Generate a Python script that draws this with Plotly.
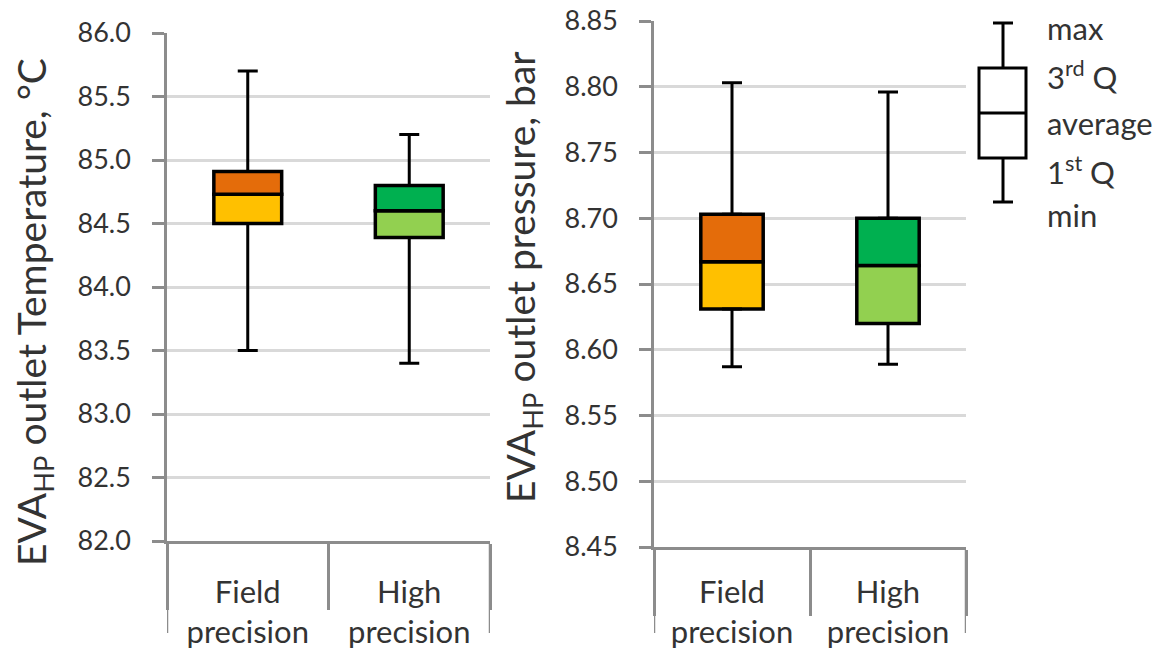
import plotly.graph_objects as go

# ---------------- data ----------------
categories = ["Field<br>precision", "High<br>precision"]

temp_min = [83.50, 83.40]
temp_q1 = [84.50, 84.39]
temp_avg = [84.73, 84.60]
temp_q3 = [84.91, 84.80]
temp_max = [85.70, 85.20]

pres_min = [8.587, 8.589]
pres_q1 = [8.631, 8.620]
pres_avg = [8.667, 8.664]
pres_q3 = [8.703, 8.700]
pres_max = [8.803, 8.796]

temp_ticks = [82.0, 82.5, 83.0, 83.5, 84.0, 84.5, 85.0, 85.5, 86.0]
pres_ticks = [8.45, 8.50, 8.55, 8.60, 8.65, 8.70, 8.75, 8.80, 8.85]

lower_colors = ["#FFC000", "#92D050"]
upper_colors = ["#E46C0A", "#00B050"]

legend_labels = ["max", "3<sup>rd</sup> Q", "average", "1<sup>st</sup> Q", "min"]

# ---------------- layout helpers ----------------
W, H = 1163, 651
FONT = "Lato"
TXT = "#333333"
AXC = "#8C8C8C"
GRID = "#D9D9D9"


def px(x):
    return x / W


def py(y):
    return 1 - y / H


fig = go.Figure()


def add_panel(xa, ya, vmin, q1, avg, q3, vmax, width):
    # whiskers (upper and lower)
    fig.add_trace(go.Scatter(
        x=categories, y=q3, mode="markers", xaxis=xa, yaxis=ya,
        marker=dict(size=1, color="rgba(0,0,0,0)"), showlegend=False, hoverinfo="skip",
        error_y=dict(type="data", symmetric=False,
                     array=[m - q for m, q in zip(vmax, q3)],
                     arrayminus=[0] * len(q3),
                     color="black", thickness=3, width=10)))
    fig.add_trace(go.Scatter(
        x=categories, y=q1, mode="markers", xaxis=xa, yaxis=ya,
        marker=dict(size=1, color="rgba(0,0,0,0)"), showlegend=False, hoverinfo="skip",
        error_y=dict(type="data", symmetric=False,
                     array=[0] * len(q1),
                     arrayminus=[q - m for q, m in zip(q1, vmin)],
                     color="black", thickness=3, width=10)))
    # lower half of box
    fig.add_trace(go.Bar(
        x=categories, y=[a - q for a, q in zip(avg, q1)], base=q1,
        xaxis=xa, yaxis=ya, width=width, showlegend=False,
        marker=dict(color=lower_colors, line=dict(color="black", width=3.5))))
    # upper half of box
    fig.add_trace(go.Bar(
        x=categories, y=[q - a for q, a in zip(q3, avg)], base=avg,
        xaxis=xa, yaxis=ya, width=width, showlegend=False,
        marker=dict(color=upper_colors, line=dict(color="black", width=3.5))))


add_panel("x", "y", temp_min, temp_q1, temp_avg, temp_q3, temp_max, 0.42)
add_panel("x2", "y2", pres_min, pres_q1, pres_avg, pres_q3, pres_max, 0.40)

# panel geometry (pixels)
L1, R1, T1, B1 = 167, 490, 33, 541
L2, R2, T2, B2 = 654, 966, 21, 547

xcommon = dict(type="category", range=[-0.5, 1.5], showline=True, linecolor=AXC, linewidth=2.5,
               tickson="boundaries", ticks="outside", ticklen=66, tickwidth=2.5, tickcolor=AXC,
               showgrid=False, zeroline=False, automargin=False,
               tickfont=dict(family=FONT, size=31, color=TXT), fixedrange=True)
ycommon = dict(showline=True, linecolor=AXC, linewidth=2.5, ticks="outside", ticklen=12,
               tickwidth=2.5, tickcolor=AXC, showgrid=True, gridcolor=GRID, gridwidth=2.5,
               zeroline=False, ticklabelstandoff=16, automargin=False,
               tickfont=dict(family=FONT, size=27, color=TXT), fixedrange=True)

fig.update_layout(
    width=W, height=H, margin=dict(l=0, r=0, t=0, b=0, autoexpand=False),
    paper_bgcolor="white", plot_bgcolor="white", barmode="overlay",
    font=dict(family=FONT, color=TXT),
    xaxis=dict(domain=[px(L1), px(R1)], anchor="y", ticklabelstandoff=22, **xcommon),
    yaxis=dict(domain=[py(B1), py(T1)], anchor="x", range=[temp_ticks[0], temp_ticks[-1]],
               tickvals=temp_ticks, tickformat=".1f", **ycommon),
    xaxis2=dict(domain=[px(L2), px(R2)], anchor="y2", ticklabelstandoff=16, **xcommon),
    yaxis2=dict(domain=[py(B2), py(T2)], anchor="x2", range=[pres_ticks[0], pres_ticks[-1]],
                tickvals=pres_ticks, tickformat=".2f", **ycommon),
)

shapes = []
# extend outer category boundary lines further down
for (xr, yb) in [("x", B1), ("x2", B2)]:
    for xv in (-0.5, 1.5):
        shapes.append(dict(type="line", xref=xr, yref="paper", x0=xv, x1=xv,
                           y0=py(yb), y1=py(633), line=dict(color=AXC, width=2.5)))

# explanatory key glyph (top right)
kx, kl, kr = 1003, 979, 1026
ky = [23, 68, 113, 158, 202]
shapes += [
    dict(type="line", xref="paper", yref="paper", x0=px(kx), x1=px(kx), y0=py(ky[0]), y1=py(ky[1]),
         line=dict(color="black", width=3)),
    dict(type="line", xref="paper", yref="paper", x0=px(kx), x1=px(kx), y0=py(ky[3]), y1=py(ky[4]),
         line=dict(color="black", width=3)),
    dict(type="line", xref="paper", yref="paper", x0=px(kx - 10), x1=px(kx + 10), y0=py(ky[0]), y1=py(ky[0]),
         line=dict(color="black", width=3)),
    dict(type="line", xref="paper", yref="paper", x0=px(kx - 10), x1=px(kx + 10), y0=py(ky[4]), y1=py(ky[4]),
         line=dict(color="black", width=3)),
    dict(type="rect", xref="paper", yref="paper", x0=px(kl), x1=px(kr), y0=py(ky[3]), y1=py(ky[1]),
         fillcolor="white", line=dict(color="black", width=3)),
    dict(type="line", xref="paper", yref="paper", x0=px(kl), x1=px(kr), y0=py(ky[2]), y1=py(ky[2]),
         line=dict(color="black", width=3)),
]
fig.update_layout(shapes=shapes)

annotations = []
label_y = [28, 75, 123, 170, 215]
for lab, yy in zip(legend_labels, label_y):
    annotations.append(dict(text=lab, xref="paper", yref="paper", x=px(1045), y=py(yy),
                            xanchor="left", yanchor="middle", showarrow=False,
                            font=dict(family=FONT, size=31, color=TXT)))

annotations.append(dict(text="EVA<sub>HP</sub> outlet Temperature, °C", xref="paper", yref="paper",
                        x=px(34), y=py(312), xanchor="center", yanchor="middle", textangle=-90,
                        showarrow=False, font=dict(family=FONT, size=39, color=TXT)))
annotations.append(dict(text="EVA<sub>HP</sub> outlet pressure, bar", xref="paper", yref="paper",
                        x=px(523), y=py(277), xanchor="center", yanchor="middle", textangle=-90,
                        showarrow=False, font=dict(family=FONT, size=39, color=TXT)))
fig.update_layout(annotations=annotations)

# remove the default page margin so the figure sits at the window's top-left corner
fig.write_html("out.html", config={"displayModeBar": False},
               post_script="document.body.style.margin='0';document.body.style.overflow='hidden';")
